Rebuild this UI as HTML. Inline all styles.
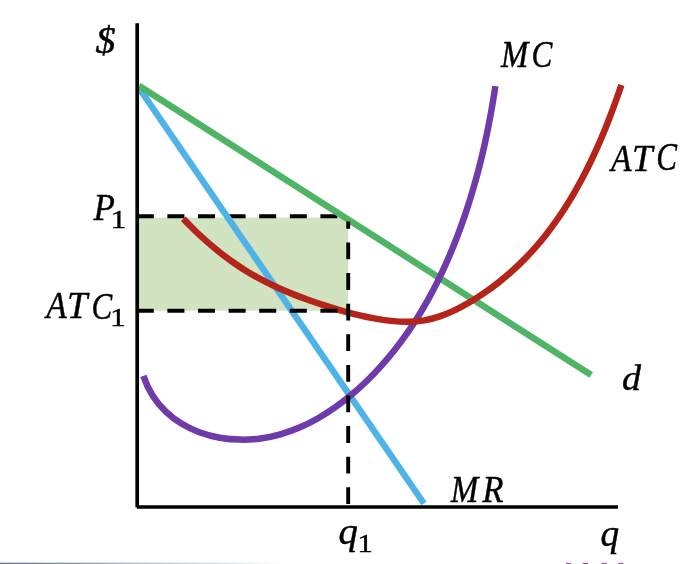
<!DOCTYPE html>
<html><head><meta charset="utf-8"><title>Short-run profit: d, MR, MC, ATC</title><style>
html,body{margin:0;padding:0;background:#fff;overflow:hidden}
svg{display:block}
text{font-family:"Liberation Serif",serif;font-style:italic;fill:#000;stroke:#000;stroke-width:.45px}
.n{font-style:normal;stroke-width:.32px}
</style></head><body>
<svg width="684" height="564" viewBox="0 0 684 564">
<defs><linearGradient id="g" x1="0" x2="1" y1="0" y2="0"><stop offset="0" stop-color="#5a6a8a"/><stop offset="0.2" stop-color="#aab4c6"/><stop offset="0.42" stop-color="#ffffff"/></linearGradient></defs>
<rect width="684" height="564" fill="#fff"/>
<rect x="0" y="562" width="684" height="1" fill="url(#g)" opacity=".3"/>
<rect x="0" y="563" width="684" height="1" fill="url(#g)" opacity=".92"/>
<rect x="137" y="217.6" width="211.2" height="93.1" fill="#d1e3c1"/>
<path d="M136.8 216.2H350" stroke="#000" stroke-width="4" stroke-dasharray="17 13.6" fill="none"/>
<path d="M139.5 88.73L423.9 503.5" stroke="#4fb3e8" stroke-width="6.5" fill="none"/>
<path d="M139 85.7L591.2 375" stroke="#4fb466" stroke-width="6.5" fill="none"/>
<path d="M143.38 375.87 C145.80 383.13 148.96 389.72 152.73 395.67 C156.51 401.62 160.90 406.92 165.78 411.61 C170.66 416.29 176.03 420.35 181.78 423.82 C187.52 427.29 193.63 430.16 199.99 432.46 C206.35 434.76 212.96 436.50 219.69 437.68 C226.42 438.87 233.27 439.50 240.13 439.62 C246.98 439.74 253.84 439.34 260.57 438.43 C267.31 437.53 273.93 436.14 280.41 434.30 C286.90 432.46 293.26 430.19 299.47 427.53 C305.69 424.88 311.77 421.84 317.70 418.47 C323.63 415.11 329.41 411.42 335.03 407.46 C340.64 403.50 346.10 399.28 351.39 394.84 C356.68 390.41 361.80 385.76 366.74 380.96 C371.68 376.16 376.43 371.21 381.01 366.13 C385.59 361.06 389.99 355.85 394.22 350.52 C398.46 345.19 402.53 339.74 406.43 334.18 C410.34 328.62 414.09 322.96 417.69 317.20 C421.29 311.44 424.74 305.58 428.04 299.64 C431.35 293.70 434.51 287.68 437.54 281.58 C440.57 275.48 443.47 269.32 446.25 263.09 C449.02 256.86 451.67 250.57 454.20 244.23 C456.73 237.90 459.15 231.51 461.46 225.09 C463.76 218.67 465.96 212.20 468.05 205.71 C470.15 199.21 472.13 192.68 474.02 186.12 C475.91 179.56 477.70 172.97 479.39 166.35 C481.08 159.74 482.67 153.10 484.18 146.44 C485.68 139.78 487.09 133.10 488.42 126.41 C489.75 119.72 490.99 113.02 492.14 106.30 C493.30 99.59 494.38 92.86 495.37 86.14" stroke="#6f3aa9" stroke-width="6.5" fill="none"/>
<path d="M183.33 218.80 C187.15 222.86 191.08 226.84 195.11 230.74 C199.15 234.64 203.28 238.45 207.52 242.15 C211.75 245.86 216.09 249.46 220.52 252.94 C224.95 256.42 229.47 259.77 234.09 262.99 C238.71 266.21 243.42 269.29 248.22 272.21 C253.01 275.13 257.90 277.88 262.87 280.48 C267.84 283.07 272.89 285.51 278.00 287.81 C283.11 290.12 288.29 292.29 293.50 294.36 C298.72 296.42 303.98 298.38 309.28 300.26 C314.57 302.13 319.89 303.93 325.22 305.66 C330.55 307.39 335.91 309.05 341.30 310.60 C346.69 312.15 352.10 313.59 357.57 314.90 C363.03 316.21 368.54 317.38 374.10 318.40 C379.66 319.41 385.28 320.27 390.93 320.88 C396.57 321.48 402.23 321.83 407.84 321.79 C413.45 321.75 419.01 321.31 424.47 320.37 C429.92 319.42 435.27 317.98 440.52 316.15 C445.77 314.33 450.92 312.12 455.96 309.65 C461.01 307.17 465.95 304.43 470.80 301.54 C475.64 298.65 480.39 295.59 485.03 292.38 C489.67 289.18 494.21 285.83 498.63 282.33 C503.05 278.84 507.37 275.21 511.56 271.46 C515.75 267.71 519.83 263.83 523.78 259.84 C527.73 255.85 531.55 251.75 535.25 247.55 C538.95 243.34 542.53 239.04 546.00 234.64 C549.46 230.24 552.81 225.76 556.04 221.19 C559.28 216.61 562.41 211.96 565.44 207.24 C568.46 202.51 571.38 197.71 574.21 192.85 C577.03 187.99 579.76 183.07 582.40 178.10 C585.03 173.12 587.58 168.09 590.04 163.02 C592.50 157.95 594.88 152.84 597.17 147.69 C599.47 142.54 601.69 137.36 603.84 132.16 C605.98 126.95 608.06 121.72 610.07 116.48 C612.07 111.24 614.02 105.99 615.90 100.73 C617.78 95.47 619.60 90.21 621.37 84.95" stroke="#b4241a" stroke-width="6.5" fill="none"/>
<path d="M136.8 310.7H350" stroke="#000" stroke-width="4" stroke-dasharray="17 13.6" fill="none"/>
<path d="M348.2 504.1V221.5" stroke="#000" stroke-width="3.9" stroke-dasharray="16.8 13.8" fill="none"/>
<path d="M137.2 23.2V507.3" stroke="#000" stroke-width="3.7" fill="none"/>
<path d="M136.8 507.05H618" stroke="#000" stroke-width="3.6" fill="none"/>
<text><tspan x="95.52" y="53.48" font-size="38.69" textLength="20.05" lengthAdjust="spacingAndGlyphs">$</tspan></text>
<text><tspan x="93.60" y="219.58" font-size="37.79" textLength="21.38" lengthAdjust="spacingAndGlyphs">P</tspan><tspan class="n" x="110.58" y="227.54" font-size="25.28" textLength="15.87" lengthAdjust="spacingAndGlyphs">1</tspan></text>
<text><tspan x="46.16" y="318.38" font-size="37.65" textLength="20.38" lengthAdjust="spacingAndGlyphs">A</tspan><tspan x="67.04" y="318.38" font-size="37.33" textLength="20.38" lengthAdjust="spacingAndGlyphs">T</tspan><tspan x="91.42" y="318.69" font-size="38.74" textLength="20.71" lengthAdjust="spacingAndGlyphs">C</tspan><tspan class="n" x="109.98" y="325.64" font-size="24.98" textLength="15.87" lengthAdjust="spacingAndGlyphs">1</tspan></text>
<text><tspan x="500.93" y="67.38" font-size="38.55" textLength="27.29" lengthAdjust="spacingAndGlyphs">M</tspan><tspan x="531.61" y="67.19" font-size="38.29" textLength="20.82" lengthAdjust="spacingAndGlyphs">C</tspan></text>
<text><tspan x="610.97" y="170.68" font-size="38.86" textLength="20.47" lengthAdjust="spacingAndGlyphs">A</tspan><tspan x="632.03" y="170.68" font-size="38.24" textLength="20.48" lengthAdjust="spacingAndGlyphs">T</tspan><tspan x="656.32" y="170.48" font-size="39.03" textLength="20.71" lengthAdjust="spacingAndGlyphs">C</tspan></text>
<text><tspan x="450.64" y="501.57" font-size="38.85" textLength="27.57" lengthAdjust="spacingAndGlyphs">M</tspan><tspan x="482.50" y="501.57" font-size="38.85" textLength="20.92" lengthAdjust="spacingAndGlyphs">R</tspan></text>
<text><tspan x="621.99" y="390.41" font-size="36.38" textLength="18.99" lengthAdjust="spacingAndGlyphs">d</tspan></text>
<text><tspan x="338.57" y="544.23" font-size="37.88" textLength="19.38" lengthAdjust="spacingAndGlyphs">q</tspan><tspan class="n" x="357.21" y="552.34" font-size="24.83" textLength="15.72" lengthAdjust="spacingAndGlyphs">1</tspan></text>
<text><tspan x="600.52" y="545.63" font-size="37.88" textLength="18.59" lengthAdjust="spacingAndGlyphs">q</tspan></text>
<g fill="#7b3f6e" opacity=".85"><rect x="566.1" y="562.9" width="4.7" height="1.1"/><rect x="582.7" y="562.9" width="5.3" height="1.1"/><rect x="601.5" y="562.9" width="5.2" height="1.1"/><rect x="618.2" y="562.9" width="5.2" height="1.1"/></g>
</svg></body></html>
